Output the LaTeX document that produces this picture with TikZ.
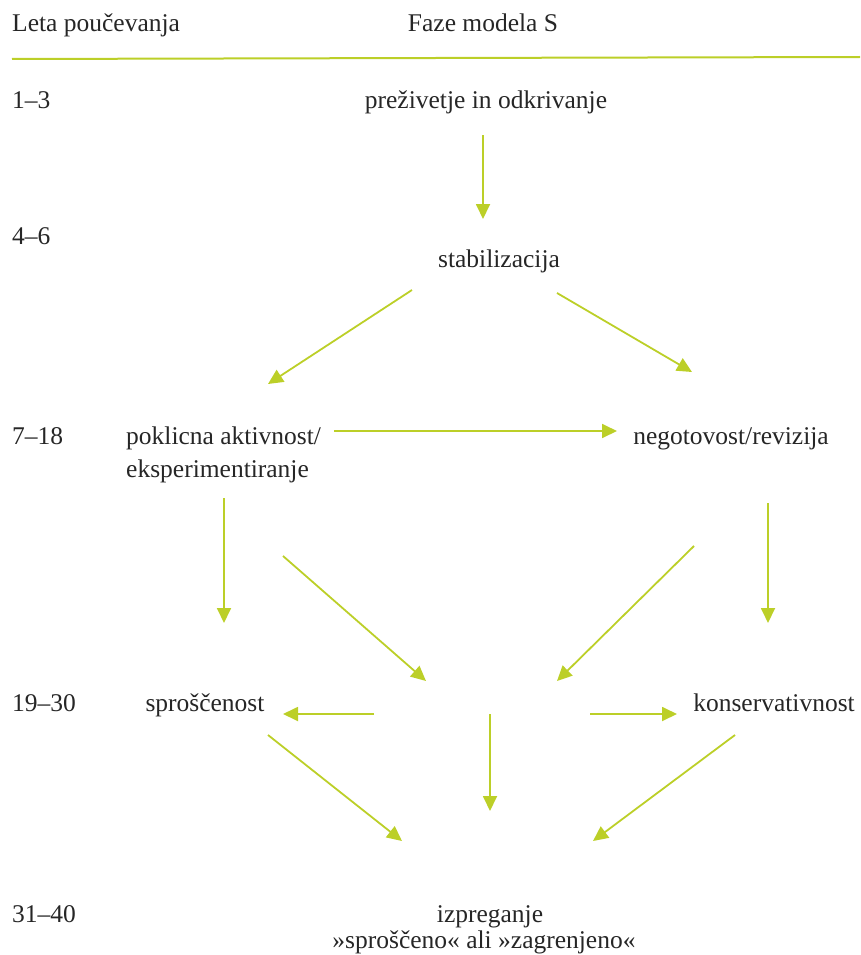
\documentclass[tikz,border=0pt]{standalone}
\usepackage{fontspec}
\setmainfont{Liberation Serif}
\usetikzlibrary{arrows.meta}
\definecolor{lime}{RGB}{188,207,40}
\tikzset{
  txt/.style={font=\fontsize{25.5}{33}\selectfont, inner sep=0pt, text=black!85},
  yr/.style={txt, anchor=base west},
  ph/.style={txt, anchor=base},
  arr/.style={draw=lime, line width=1.8pt, -{Triangle[length=15pt,width=14pt]}}
}
\begin{document}
\begin{tikzpicture}[x=1pt,y=-1pt]
\useasboundingbox (0,0) rectangle (860,955);
% header
\node[yr] (h1) at (12,32) {Leta poučevanja};
\node[ph] (h2) at (483,32) {Faze modela S};
\coordinate (l1) at (12,59);
\coordinate (l2) at (860,57);
\draw[draw=lime, line width=2pt] (l1) -- (l2);
% years
\node[yr] (y1) at (12,109) {1–3};
\node[yr] (y2) at (12,244) {4–6};
\node[yr] (y3) at (12,444) {7–18};
\node[yr] (y4) at (12,711) {19–30};
\node[yr] (y5) at (12,922) {31–40};
% phases
\node[ph] (p1) at (486,109) {preživetje in odkrivanje};
\node[ph] (p2) at (499,267) {stabilizacija};
\node[txt, anchor=base west] (p3) at (126,444) {poklicna aktivnost/};
\node[txt, anchor=base west] (p3b) at (126,477) {eksperimentiranje};
\node[ph] (p4) at (731,444) {negotovost/revizija};
\node[ph] (p5) at (205,711) {sproščenost};
\node[ph] (p6) at (774,711) {konservativnost};
\node[ph] (p7) at (490,922) {izpreganje};
\node[ph] (p7b) at (484,948) {»sproščeno« ali »zagrenjeno«};
% arrow endpoints
\coordinate (a1s) at (483,135); \coordinate (a1e) at (483,219);
\coordinate (a2s) at (412,290); \coordinate (a2e) at (268,384);
\coordinate (a3s) at (557,293); \coordinate (a3e) at (692,372);
\coordinate (a4s) at (334,431); \coordinate (a4e) at (617,431);
\coordinate (a5s) at (224,498); \coordinate (a5e) at (224,623);
\coordinate (a6s) at (283,556); \coordinate (a6e) at (426,681);
\coordinate (a7s) at (694,546); \coordinate (a7e) at (557,681);
\coordinate (a8s) at (768,503); \coordinate (a8e) at (768,623);
\coordinate (a9s) at (374,714); \coordinate (a9e) at (283,714);
\coordinate (a10s) at (490,714); \coordinate (a10e) at (490,811);
\coordinate (a11s) at (590,714); \coordinate (a11e) at (677,714);
\coordinate (a12s) at (268,735); \coordinate (a12e) at (402,841);
\coordinate (a13s) at (735,735); \coordinate (a13e) at (593,841);
\foreach \i in {1,...,13} {\draw[arr] (a\i s) -- (a\i e);}
\end{tikzpicture}
\end{document}
